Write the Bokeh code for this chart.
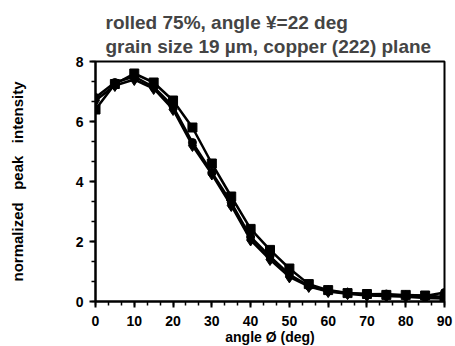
from bokeh.plotting import figure
from bokeh.models import Title, SingleIntervalTicker, Range1d
from bokeh.embed import file_html
from bokeh.resources import INLINE

angle = [0, 5, 10, 15, 20, 25, 30, 35, 40, 45, 50, 55, 60, 65, 70, 75, 80, 85, 90]
series_sq = [6.4, 7.25, 7.6, 7.3, 6.7, 5.8, 4.6, 3.5, 2.42, 1.72, 1.1, 0.58, 0.38, 0.28, 0.25, 0.22, 0.22, 0.2, 0.15]
series_di = [6.7, 7.2, 7.4, 7.1, 6.4, 5.2, 4.25, 3.2, 2.05, 1.4, 0.82, 0.5, 0.33, 0.26, 0.2, 0.18, 0.16, 0.12, 0.1]
series_ci = [6.8, 7.3, 7.5, 7.15, 6.5, 5.3, 4.3, 3.3, 2.15, 1.5, 0.9, 0.52, 0.35, 0.28, 0.24, 0.25, 0.2, 0.18, 0.3]

title_text = "rolled 75%, angle \u00a5=22 deg\ngrain size 19 \u00b5m, copper (222) plane"
xlabel = "angle \u00d8 (deg)"
ylabel = "normalized\u00a0\u00a0\u00a0peak\u00a0\u00a0\u00a0intensity"

FONT = "Liberation Sans"

p = figure(width=455, height=346, output_backend="svg", toolbar_location=None,
           x_range=Range1d(0, 90), y_range=Range1d(0, 8),
           min_border_left=95, min_border_right=11, min_border_top=61, min_border_bottom=45)
p.frame_width = 349
p.frame_height = 240

t = Title(text=title_text, align="left", offset=10, text_font=FONT, text_font_size="19px",
          text_font_style="bold", text_line_height=1.15, standoff=8)
p.add_layout(t, "above")

for ys, mk, sz in [(series_sq, "square", 9), (series_di, "diamond", 12), (series_ci, "circle", 8)]:
    p.line(angle, ys, line_color="black", line_width=2.5)
    p.scatter(angle, ys, marker=mk, size=sz, fill_color="black", line_color="black")

p.xaxis.ticker = SingleIntervalTicker(interval=10, num_minor_ticks=3)
p.yaxis.ticker = SingleIntervalTicker(interval=2, num_minor_ticks=3)
p.xgrid.visible = False
p.ygrid.visible = False

for ax in (p.xaxis[0], p.yaxis[0]):
    ax.axis_line_width = 2
    ax.major_tick_line_width = 2
    ax.minor_tick_line_width = 1.5
    ax.major_tick_in = 0
    ax.major_tick_out = 6
    ax.minor_tick_in = 0
    ax.minor_tick_out = 4
    ax.major_label_text_font = FONT
    ax.major_label_text_font_style = "bold"
    ax.major_label_text_font_size = "14px"
    ax.major_label_text_color = "black"
    ax.axis_label_text_font = FONT
    ax.axis_label_text_font_style = "bold"
    ax.axis_label_text_font_size = "14px"
    ax.axis_label_text_color = "black"

p.xaxis.axis_label = xlabel
p.xaxis.axis_label_standoff = 0
p.xaxis.major_label_standoff = 8
p.yaxis.axis_label = ylabel
p.yaxis.axis_label_text_font_size = "15px"
p.yaxis.axis_label_standoff = 47
p.yaxis.major_label_standoff = 6

p.outline_line_color = "black"
p.outline_line_width = 2
p.outline_line_alpha = 1

open("out.html", "w").write(file_html(p, INLINE))
